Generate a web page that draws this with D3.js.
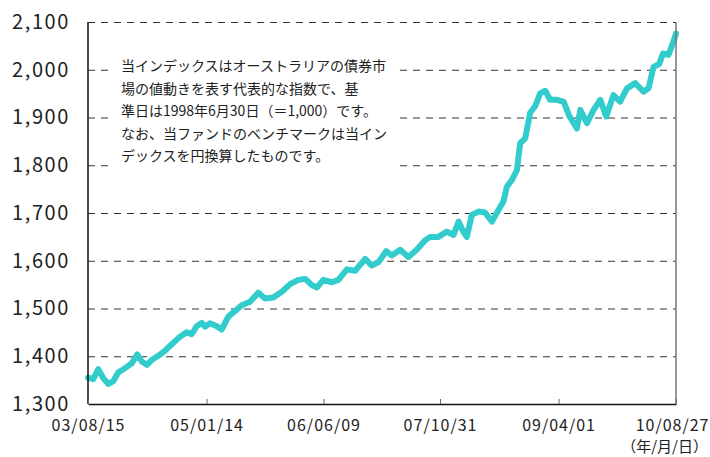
<!DOCTYPE html>
<html>
<head>
<meta charset="utf-8">
<script src="https://cdn.jsdelivr.net/npm/d3@7"></script>
<style>
  body { margin: 0; background: #fff; }
  text { font-family: "Noto Sans CJK JP", "Noto Sans", sans-serif; fill: #222; }
</style>
</head>
<body>
<div id="chartdiv"></div>
<script>
/* --- Data --- */

let dates = ["2003-08-15","2003-09-07","2003-09-29","2003-10-21","2003-11-12","2003-12-04","2003-12-25",
  "2004-01-24","2004-02-22","2004-03-17","2004-04-06","2004-04-28","2004-05-19","2004-06-17","2004-07-17",
  "2004-08-15","2004-09-20","2004-10-19","2004-11-10","2004-12-02","2004-12-24","2005-01-07","2005-01-29",
  "2005-02-28","2005-03-21","2005-04-19","2005-05-19","2005-06-17","2005-07-23","2005-08-28","2005-09-27",
  "2005-11-02","2005-12-09","2006-01-14","2006-02-19","2006-03-21","2006-04-19","2006-05-11","2006-06-08",
  "2006-07-15","2006-08-13","2006-09-19","2006-10-25","2006-12-08","2007-01-06","2007-02-04","2007-03-10",
  "2007-04-03","2007-05-10","2007-06-15","2007-07-21","2007-08-27","2007-09-18","2007-10-24","2007-11-30",
  "2007-12-29","2008-01-20","2008-02-10","2008-02-25","2008-03-18","2008-04-16","2008-05-15","2008-06-14",
  "2008-07-12","2008-08-03","2008-08-18","2008-09-09","2008-10-01","2008-10-08","2008-10-15","2008-11-06",
  "2008-11-28","2008-12-20","2009-01-11","2009-02-02","2009-02-23","2009-03-25","2009-04-23","2009-05-19",
  "2009-06-20","2009-07-05","2009-08-03","2009-09-01","2009-09-30","2009-10-26","2009-11-27","2009-12-26",
  "2010-01-25","2010-03-02","2010-04-07","2010-04-29","2010-05-21","2010-06-15","2010-07-01","2010-07-25",
  "2010-08-16","2010-08-27"]

let values = [1355,1352,1373,1354,1342,1348,1366,
  1375,1385,1404,1389,1382,1392,1401,1412,
  1425,1441,1450,1446,1463,1470,1462,1469,
  1463,1456,1483,1495,1507,1514,1533,1521,
  1523,1535,1551,1560,1562,1549,1544,1560,
  1555,1560,1582,1579,1604,1590,1597,1620,
  1611,1623,1608,1623,1643,1650,1650,1661,
  1654,1682,1661,1650,1696,1703,1701,1682,
  1706,1724,1755,1769,1790,1818,1846,1856,
  1910,1924,1951,1956,1937,1937,1933,1902,
  1877,1916,1888,1916,1937,1902,1947,1933,
  1961,1972,1954,1961,2006,2012,2034,2031,
  2059,2076]

let yTicks = [1300, 1400, 1500, 1600, 1700, 1800, 1900, 2000, 2100]
let xTickDates = ["2003-08-15","2005-01-14","2006-06-09","2007-10-31","2009-04-01","2010-08-27"]

let noteLines = [
  "当インデックスはオーストラリアの債券市",
  "場の値動きを表す代表的な指数で、基",
  "準日は1998年6月30日（＝1,000）です。",
  "なお、当ファンドのベンチマークは当イン",
  "デックスを円換算したものです。"
]
let unitLabel = "（年/月/日）"

/* -------------------- */

let width = 710
let height = 457
let leftMargin = 88
let rightMargin = 34
let topMargin = 22
let bottomMargin = 53
let plotW = width - leftMargin - rightMargin
let plotH = height - topMargin - bottomMargin
let parseDate = d3.timeParse("%Y-%m-%d")

function drawChart(){
  let svg = d3.select('#chartdiv')
    .append('svg')
    .attr("width", width)
    .attr("height", height)

  let g = svg.append("g")
    .attr("transform", `translate(${leftMargin}, ${topMargin})`)

  // scales
  let xscale = d3.scaleTime()
    .domain([parseDate(xTickDates[0]), parseDate(xTickDates[xTickDates.length - 1])])
    .range([0, plotW])
  let yscale = d3.scaleLinear()
    .domain([1300, 2100])
    .range([plotH, 0])

  // dashed grid lines
  let grid = g.append("g")
    .call(d3.axisLeft(yscale).tickValues(yTicks.slice(1)).tickSize(-plotW).tickFormat(""))
  grid.select(".domain").remove()
  grid.selectAll("line")
    .attr("stroke", "#333")
    .attr("stroke-width", 1)
    .attr("stroke-dasharray", "7,6")

  // y labels
  let yAxis = g.append("g")
    .call(d3.axisLeft(yscale).tickValues(yTicks).tickSize(0).tickPadding(18).tickFormat(d3.format(",")))
  yAxis.select(".domain").remove()
  yAxis.selectAll("text")
    .style("font-size", "20px")
    .style("letter-spacing", "1.6px")
    .attr("fill", "#222")

  // note box (white behind text hides grid)
  g.append("rect")
    .attr("x", 112 - leftMargin)
    .attr("y", 42 - topMargin)
    .attr("width", 284)
    .attr("height", 130)
    .attr("fill", "#fff")
  g.append("g").selectAll("text")
    .data(noteLines)
    .join("text")
    .attr("x", 121 - leftMargin)
    .attr("y", (d, i) => 71 - topMargin + i * 22.5)
    .style("font-size", "14px")
    .text(d => d)

  // line
  let line = d3.line()
    .x((d, i) => xscale(parseDate(dates[i])))
    .y(d => yscale(d))
  g.append("path")
    .datum(values)
    .attr("d", line)
    .attr("fill", "none")
    .attr("stroke", "#33cccc")
    .attr("stroke-width", 6)
    .attr("stroke-linejoin", "round")
    .attr("stroke-linecap", "round")

  // frame
  g.append("line")
    .attr("x1", plotW).attr("x2", plotW)
    .attr("y1", 0).attr("y2", plotH)
    .attr("stroke", "#777").attr("stroke-width", 1.5)
  g.append("line")
    .attr("x1", 0).attr("x2", 0)
    .attr("y1", 0).attr("y2", plotH)
    .attr("stroke", "#111").attr("stroke-width", 1.5)

  // x axis
  let xAxis = g.append("g")
    .attr("transform", `translate(0, ${plotH})`)
    .call(d3.axisBottom(xscale)
      .tickValues(xTickDates.map(parseDate))
      .tickSizeInner(-5).tickSizeOuter(0)
      .tickPadding(16)
      .tickFormat(d3.timeFormat("%y/%m/%d")))
  xAxis.select(".domain")
    .attr("stroke", "#111").attr("stroke-width", 1.5)
  xAxis.selectAll(".tick line").attr("stroke", "#666")
  xAxis.selectAll("text")
    .style("font-size", "16px")
    .style("letter-spacing", "1px")
    .attr("fill", "#222")
  // keep the last label inside the window
  xAxis.selectAll(".tick:last-of-type text")
    .attr("text-anchor", "end")
    .attr("x", width - 1 - leftMargin - plotW)

  svg.append("text")
    .attr("x", 708)
    .attr("y", 452)
    .attr("text-anchor", "end")
    .style("font-size", "15px")
    .text(unitLabel)
}
drawChart()
</script>
</body>
</html>
